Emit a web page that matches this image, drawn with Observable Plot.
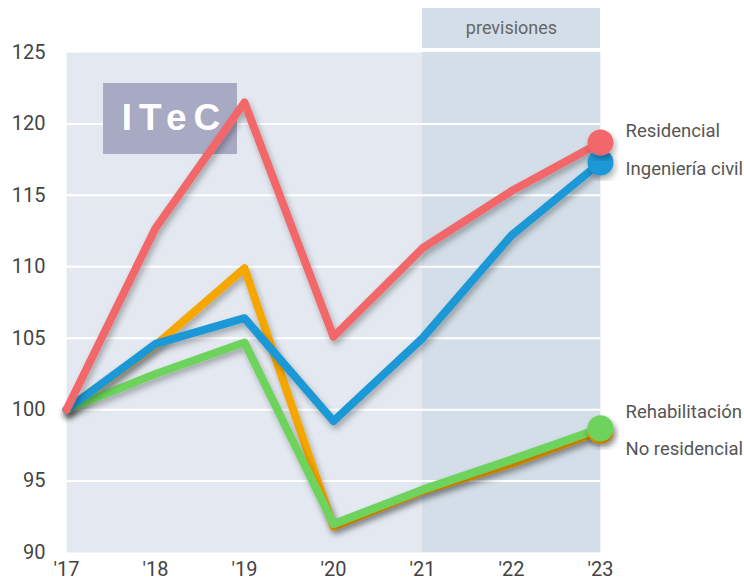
<!DOCTYPE html>
<html>
<head>
<meta charset="utf-8">
<script src="https://cdn.jsdelivr.net/npm/d3@7"></script>
<script src="https://cdn.jsdelivr.net/npm/@observablehq/plot@0.6"></script>
<style>
  html, body { margin: 0; padding: 0; background: #ffffff; }
  #chart { width: 744px; height: 584px; }
</style>
</head>
<body>
<div id="chart"></div>
<script>
// ---- data ----
const years = [2017, 2018, 2019, 2020, 2021, 2022, 2023];
const residencial    = [100, 112.7, 121.5, 105.1, 111.3, 115.3, 118.7];
const ingenieriaCivil = [100, 104.6, 106.4, 99.2, 105.0, 112.2, 117.3];
const noResidencial  = [100, 104.5, 109.9, 91.8, 94.3, 96.2, 98.5];
const rehabilitacion = [100, 102.5, 104.7, 92.0, 94.4, 96.5, 98.7];
const seriesNames = ["No residencial", "Rehabilitación", "Ingeniería civil", "Residencial"];
const seriesColors = ["#f5a700", "#6dd35c", "#1a98d6", "#f2686b"];
const yTicks = [90, 95, 100, 105, 110, 115, 120, 125];
const gridValues = [95, 100, 105, 110, 115, 120];
const forecastStart = 2021;
const forecastLabel = "previsiones";
const logoText = "ITeC";

const seriesValues = [noResidencial, rehabilitacion, ingenieriaCivil, residencial];
const rows = [];
seriesNames.forEach((name, i) => {
  years.forEach((yr, j) => rows.push({series: name, year: yr, value: seriesValues[i][j]}));
});
const ends = seriesNames.map((name, i) => ({series: name, year: years[years.length - 1], value: seriesValues[i][years.length - 1]}));
const colorOf = Object.fromEntries(seriesNames.map((n, i) => [n, seriesColors[i]]));
const labelDy = {"Residencial": -11, "Ingeniería civil": 7, "Rehabilitación": -16, "No residencial": 18};

const font = "Roboto, 'Liberation Sans', sans-serif";

const plot = Plot.plot({
  width: 744,
  height: 584,
  marginLeft: 66,
  marginRight: 144,
  marginTop: 52,
  marginBottom: 32,
  style: {fontFamily: font, fontSize: "20px", color: "#444", background: "transparent", overflow: "visible"},
  x: {domain: [2017, 2023], ticks: years, tickFormat: d => "'" + String(d).slice(2), tickSize: 0, tickPadding: 9, label: null},
  y: {domain: [90, 125], ticks: yTicks, tickSize: 0, tickPadding: 21, label: null},
  marks: [
    Plot.frame({fill: "#e4e9f1", stroke: null}),
    Plot.rect([forecastStart], {x1: d => d, x2: 2023, y1: 90, y2: 125, fill: "#d3dee8"}),
    Plot.rect([forecastStart], {x1: d => d, x2: 2023, y1: 125.28, y2: 128.08, fill: "#d3dee8"}),
    Plot.text([forecastLabel], {x: 2022, y: 126.72, text: d => d, fill: "#666", fontSize: 18, fontFamily: font}),
    Plot.ruleY(gridValues, {x1: 2017, x2: 2023, stroke: "#ffffff", strokeWidth: 2}),
    Plot.rect([logoText], {x1: 2017.416, x2: 2018.921, y1: 117.86, y2: 122.83, fill: "#a8a9c3"}),
    Plot.text([logoText], {x: 2018.169, y: 120.4, dx: 4, text: d => d, fill: "#ffffff", fontSize: 37, fontWeight: "bold", fontFamily: "'Liberation Sans', Arial, sans-serif", className: "logo"}),
    ...seriesNames.map(name => Plot.line(rows.filter(r => r.series === name), {
      x: "year", y: "value", stroke: colorOf[name], strokeWidth: 8, strokeLinecap: "round", strokeLinejoin: "round", className: "shadowed"
    })),
    ...seriesNames.map(name => Plot.dot(ends.filter(r => r.series === name), {
      x: "year", y: "value", r: 13, fill: colorOf[name], stroke: null, className: "shadowed"
    })),
    ...seriesNames.map(name => Plot.text(ends.filter(r => r.series === name), {
      x: "year", y: "value", text: "series", textAnchor: "start", dx: 25, dy: labelDy[name], fill: "#555", fontSize: 18.5, fontFamily: font
    }))
  ]
});

// drop shadow filter
const svg = d3.select(plot);
const defs = svg.insert("defs", ":first-child");
const f = defs.append("filter").attr("id", "dropshadow").attr("x", "-20%").attr("y", "-20%").attr("width", "140%").attr("height", "140%");
f.append("feDropShadow").attr("dx", 2).attr("dy", 4).attr("stdDeviation", 3).attr("flood-color", "#000").attr("flood-opacity", 0.3);
svg.selectAll("g.shadowed").attr("filter", "url(#dropshadow)");
svg.selectAll("g.logo text").attr("letter-spacing", "7px");

document.getElementById("chart").appendChild(plot);
</script>
</body>
</html>
